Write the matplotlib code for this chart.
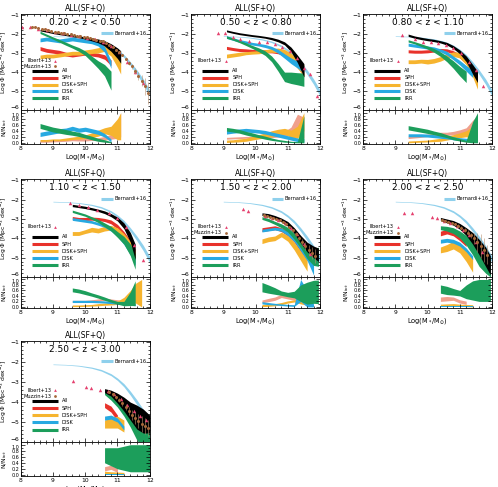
import numpy as np
import matplotlib
matplotlib.use('Agg')
import matplotlib.pyplot as plt

plt.rcParams['font.family'] = 'DejaVu Sans'

zlabels = ['0.20 < z < 0.50', '0.50 < z < 0.80', '0.80 < z < 1.10', '1.10 < z < 1.50',
           '1.50 < z < 2.00', '2.00 < z < 2.50', '2.50 < z < 3.00']

# Bernardi+16 (same in every panel)
bern_m = [9.0, 9.4, 9.8, 10.2, 10.5, 10.8, 11.0, 11.2, 11.4, 11.6, 11.8, 12.0]
bern = [-2.1, -2.12, -2.17, -2.27, -2.4, -2.62, -2.85, -3.15, -3.55, -4.0, -4.5, -5.1]
bern_w = [.015, .015, .02, .03, .04, .05, .06, .08, .1, .12, .14, .16]

# ---- panel 1: 0.2 < z < 0.5
m1 = [8.6, 8.8, 9.0, 9.2, 9.4, 9.6, 9.8, 10.0, 10.2, 10.4, 10.6, 10.8, 11.0, 11.1]
all1 = [-1.78, -1.85, -1.92, -1.98, -2.03, -2.08, -2.13, -2.2, -2.27, -2.35, -2.48, -2.7, -3.0, -3.2]
all1_w = [.04, .04, .04, .04, .04, .05, .05, .06, .08, .1, .14, .2, .28, .33]
sph1 = [-2.75, -2.85, -2.9, -2.95, -3.05, -3.1, -3.05, -3.0, -3.05, -3.1, -3.2, -3.5]
sph1_w = [.1, .1, .1, .1, .1, .1, .1, .1, .1, .1, .12, .15]
ds1 = [-3.2, -3.15, -3.15, -3.1, -3.05, -3.0, -3.0, -2.95, -2.9, -2.85, -2.75, -2.95, -3.4, -3.7]
ds1_w = [.1, .1, .1, .1, .1, .1, .1, .12, .12, .14, .15, .2, .35, .4]
disk1 = [-2.3, -2.25, -2.3, -2.35, -2.3, -2.25, -2.3, -2.35, -2.4, -2.5, -2.8, -3.6]
disk1_w = [.1, .1, .1, .1, .1, .1, .1, .1, .1, .12, .15, .2]
irr1 = [-1.9, -2.05, -2.2, -2.35, -2.5, -2.65, -2.8, -3.0, -3.3, -3.6, -3.9, -4.45]
irr1_w = [.06, .06, .06, .07, .08, .08, .1, .12, .15, .2, .3, .5]
r_sph1 = [.05, .05, .06, .07, .08, .1, .1, .1, .12, .12, .15, .2, .4, .6]
r_sph1_w = [.03, .03, .03, .03, .03, .03, .04, .04, .04, .05, .06, .08, .25, .4]
r_ds1 = [.08, .08, .1, .1, .12, .15, .17, .2, .25, .32, .4, .4, .45, .55]
r_ds1_w = [.03, .03, .03, .03, .04, .04, .05, .06, .08, .1, .1, .15, .35, .45]
r_disk1 = [.28, .32, .36, .4, .42, .48, .42, .45, .4, .35, .25, .08]
r_disk1_w = [.07, .07, .07, .07, .07, .07, .07, .07, .07, .07, .06, .05]
r_irr1 = [.56, .5, .44, .4, .36, .32, .28, .22, .16, .1, .06, .02]
r_irr1_w = [.08, .08, .08, .08, .08, .07, .07, .06, .06, .05, .04, .02]
il1_m = [8.05, 8.3, 8.55, 8.8, 9.05, 9.3, 9.55, 9.8, 10.05, 10.3, 10.55, 10.8, 11.05, 11.3, 11.55, 11.8]
il1 = [-1.62, -1.62, -1.7, -1.8, -1.88, -1.95, -2.02, -2.1, -2.18, -2.27, -2.4, -2.6, -2.95, -3.45, -4.0, -4.6]
mu1_m = [8.35, 8.45, 8.55, 8.65, 8.75, 8.85, 8.95, 9.05, 9.15, 9.25, 9.35, 9.45, 9.55, 9.65, 9.75,
         9.85, 9.95, 10.05, 10.15, 10.25, 10.35, 10.45, 10.55, 10.65, 10.75, 10.85, 10.95, 11.05,
         11.15, 11.25, 11.35, 11.45, 11.55, 11.65, 11.75, 11.85, 11.95]
mu1 = [-1.6, -1.63, -1.66, -1.7, -1.74, -1.78, -1.82, -1.86, -1.89, -1.92, -1.95, -1.98, -2.01,
       -2.04, -2.07, -2.1, -2.13, -2.17, -2.2, -2.24, -2.28, -2.33, -2.38, -2.45, -2.55, -2.68,
       -2.82, -2.95, -3.1, -3.3, -3.5, -3.7, -3.95, -4.2, -4.45, -4.75, -5.1]
mu1_e = [.03] * 25 + [.04, .05, .06, .07, .08, .1, .12, .15, .2, .3, .45, .6]

# ---- panel 2: 0.5 < z < 0.8
m2 = [9.1, 9.3, 9.5, 9.7, 9.9, 10.1, 10.3, 10.5, 10.7, 10.9, 11.1, 11.3, 11.5]
all2 = [-1.82, -1.9, -1.97, -2.02, -2.07, -2.11, -2.16, -2.23, -2.33, -2.48, -2.8, -3.3, -3.9]
all2_w = [.05, .05, .05, .05, .05, .05, .05, .06, .07, .08, .12, .2, .35]
sph2 = [-2.72, -2.78, -2.83, -2.85, -2.88, -2.9, -2.9, -2.9, -2.95, -3.05, -3.25, -3.6, -4.05]
sph2_w = [.08, .08, .08, .08, .08, .08, .08, .08, .08, .1, .12, .15, .2]
ds2 = [-3.15, -3.1, -3.05, -3.0, -2.97, -2.95, -2.9, -2.85, -2.85, -2.95, -3.2, -3.55, -3.9]
ds2_w = [.1, .1, .1, .08, .08, .08, .08, .1, .12, .15, .2, .25, .3]
disk2 = [-2.15, -2.25, -2.35, -2.42, -2.5, -2.55, -2.62, -2.72, -2.9, -3.15, -3.4, -3.6, -3.85]
disk2_w = [.07, .07, .07, .07, .07, .07, .08, .08, .1, .12, .15, .18, .2]
irr2 = [-2.15, -2.25, -2.38, -2.52, -2.67, -2.82, -3.0, -3.3, -3.75, -4.25, -4.3, -4.35, -4.4]
irr2_w = [.06, .06, .06, .07, .08, .1, .12, .15, .2, .25, .3, .32, .35]
r_sph2 = [.15, .16, .17, .18, .18, .2, .2, .22, .25, .3, .4, .65, .5]
r_sph2_w = [.03, .03, .03, .03, .04, .04, .04, .05, .06, .08, .12, .3, .35]
r_ds2 = [.05, .06, .08, .1, .15, .2, .25, .3, .35, .38, .3, .35, .7]
r_ds2_w = [.04, .04, .05, .05, .06, .07, .08, .1, .1, .1, .12, .2, .3]
r_disk2 = [.35, .38, .4, .42, .4, .38, .35, .3, .25, .2, .15, .1, .08]
r_disk2_w = [.06] * 13
r_irr2 = [.45, .42, .38, .32, .27, .22, .17, .12, .08, .05, .03, .02, .45]
r_irr2_w = [.06, .06, .06, .06, .06, .05, .05, .04, .03, .03, .02, .02, .45]
il2_m = [8.84, 9.06, 9.3, 9.53, 9.8, 10.11, 10.37, 10.62, 10.83, 11.06, 11.29, 11.49, 11.69, 11.9]
il2 = [-1.91, -1.95, -2.12, -2.26, -2.35, -2.42, -2.42, -2.53, -2.65, -2.9, -3.26, -3.8, -4.1, -5.25]

# ---- panel 3: 0.8 < z < 1.1
m3 = [9.4, 9.6, 9.8, 10.0, 10.2, 10.4, 10.6, 10.8, 11.0, 11.2, 11.4, 11.55]
all3 = [-2.05, -2.15, -2.22, -2.28, -2.33, -2.4, -2.5, -2.68, -2.93, -3.3, -3.85, -4.25]
all3_w = [.06, .06, .06, .06, .06, .06, .07, .08, .1, .15, .25, .3]
sph3 = [-2.9, -2.92, -2.92, -2.9, -2.86, -2.83, -2.85, -2.95, -3.15, -3.45, -3.9, -4.2]
sph3_w = [.08, .08, .08, .08, .08, .08, .08, .08, .1, .12, .15, .2]
ds3 = [-3.45, -3.45, -3.42, -3.45, -3.4, -3.3, -3.15, -3.05, -3.1, -3.4, -3.95, -4.5]
ds3_w = [.1, .1, .1, .12, .12, .12, .12, .12, .15, .2, .3, .4]
disk3 = [-2.55, -2.6, -2.65, -2.7, -2.75, -2.85, -3.0, -3.25, -3.5, -3.8, -4.1]
disk3_w = [.08, .08, .08, .08, .08, .08, .1, .1, .12, .15, .18]
irr3 = [-2.35, -2.45, -2.57, -2.7, -2.85, -3.05, -3.3, -3.6, -3.95, -4.25]
irr3_w = [.06, .06, .07, .08, .1, .12, .15, .2, .25, .3]
r_sph3 = [.18, .2, .22, .25, .27, .3, .3, .32, .35, .4, .55, .6]
r_sph3_w = [.04, .04, .04, .04, .04, .05, .05, .06, .08, .1, .2, .3]
r_ds3 = [.03, .04, .05, .06, .08, .1, .15, .2, .25, .3, .35, .4]
r_ds3_w = [.03, .03, .03, .03, .04, .05, .06, .07, .08, .1, .2, .3]
r_disk3 = [.25, .25, .25, .24, .22, .2, .18, .15, .12, .1, .08]
r_disk3_w = [.05] * 11
r_irr3 = [.5, .46, .42, .38, .33, .28, .22, .15, .1, .05, .35, .5]
r_irr3_w = [.07, .07, .07, .07, .06, .06, .05, .05, .04, .03, .35, .5]
il3_m = [9.22, 9.6, 9.86, 10.12, 10.32, 10.58, 10.79, 11.05, 11.3, 11.51, 11.72]
il3 = [-2.04, -2.26, -2.39, -2.4, -2.47, -2.56, -2.74, -3.0, -3.44, -3.88, -4.75]

# ---- panel 4: 1.1 < z < 1.5
m4 = [9.6, 9.8, 10.0, 10.2, 10.4, 10.6, 10.8, 11.0, 11.2, 11.4, 11.55, 11.75]
all4 = [-2.3, -2.35, -2.4, -2.47, -2.55, -2.65, -2.8, -3.0, -3.35, -3.95, -4.7]
all4_w = [.06, .06, .06, .06, .06, .07, .08, .1, .15, .25, .4]
sph4 = [-2.95, -3.0, -3.0, -2.98, -3.0, -3.05, -3.15, -3.4, -3.8, -4.3, -4.8]
sph4_w = [.08, .08, .08, .08, .08, .08, .1, .12, .15, .2, .25]
ds4 = [-3.75, -3.75, -3.65, -3.55, -3.6, -3.5, -3.45, -3.6, -3.95, -4.4, -5.0]
ds4_w = [.1, .1, .1, .12, .12, .12, .12, .15, .2, .25, .3]
disk4 = [-3.0, -3.05, -3.1, -3.15, -3.25, -3.35, -3.55, -3.8, -4.2, -4.7, -5.2]
disk4_w = [.07, .07, .07, .07, .07, .08, .08, .1, .12, .15, .2]
irr4 = [-2.6, -2.7, -2.8, -2.95, -3.1, -3.3, -3.5, -3.8, -4.1, -4.6, -5.2]
irr4_w = [.06, .06, .06, .07, .08, .1, .12, .15, .2, .3, .4]
r_sph4 = [.2, .2, .2, .22, .25, .28, .25, .22, .2, .18, .15]
r_sph4_w = [.04] * 11
r_ds4 = [.04, .04, .05, .06, .08, .1, .12, .15, .25, .4, .5, .5]
r_ds4_w = [.03, .03, .03, .03, .04, .04, .05, .06, .1, .2, .35, .5]
r_disk4 = [.2, .2, .2, .2, .19, .18, .16, .14, .12, .1, .08]
r_disk4_w = [.04] * 11
r_irr4 = [.62, .58, .52, .45, .38, .3, .22, .15, .12, .3, .5]
r_irr4_w = [.07, .07, .07, .06, .06, .06, .05, .05, .08, .25, .45]
il4_m = [9.54, 9.8, 10.08, 10.37, 10.73, 11.0, 11.28, 11.5, 11.8]
il4 = [-2.18, -2.27, -2.4, -2.53, -2.7, -2.97, -3.4, -4.36, -5.14]

# ---- panel 5: 1.5 < z < 2.0
m5 = [10.2, 10.4, 10.6, 10.8, 11.0, 11.2, 11.4, 11.6, 11.8, 11.95]
all5 = [-2.75, -2.8, -2.9, -3.05, -3.25, -3.6, -4.05, -4.45, -4.7, -4.85]
all5_w = [.07, .08, .08, .1, .12, .15, .2, .25, .3, .35]
sph5 = [-3.55, -3.5, -3.45, -3.55, -3.75, -4.05, -4.5, -4.9]
sph5_w = [.1, .1, .1, .1, .12, .15, .2, .25]
ds5 = [-4.15, -4.05, -4.0, -3.8, -4.0, -4.4, -4.9, -5.4]
ds5_w = [.12, .12, .12, .12, .15, .2, .25, .3]
disk5 = [-3.6, -3.55, -3.5, -3.55, -3.75, -4.05, -4.5, -4.95, -5.6]
disk5_w = [.07, .07, .07, .08, .1, .12, .15, .2, .3]
irr5 = [-2.95, -3.05, -3.2, -3.35, -3.55, -3.9, -4.3, -4.75, -5.0, -4.95]
irr5_w = [.07, .08, .08, .1, .12, .15, .2, .3, .4, .5]
r_sph5 = [.2, .25, .3, .4, .35, .3, .2, .15]
r_sph5_w = [.05, .06, .06, .06, .06, .06, .06, .06]
r_ds5 = [.05, .06, .08, .12, .18, .22, .15, .1]
r_ds5_w = [.04] * 8
r_disk5 = [.15, .12, .1, .08, .06, .05, .6, .3, .05]
r_disk5_w = [.04, .04, .03, .03, .03, .03, .4, .3, .05]
r_irr5 = [.72, .65, .58, .5, .45, .45, .5, .5, .55, .55]
r_irr5_w = [.17, .15, .12, .08, .08, .12, .3, .4, .42, .43]
il5_m = [9.6, 9.78, 10.3, 10.5, 10.7, 10.9, 11.1, 11.3, 11.5, 11.7]
il5 = [-2.49, -2.6, -2.85, -2.95, -3.05, -3.2, -3.45, -3.8, -4.3, -4.8]
mu5_m = [10.25, 10.35, 10.45, 10.55, 10.65, 10.75, 10.85, 10.95, 11.05, 11.15, 11.25, 11.35,
         11.45, 11.55, 11.65, 11.75, 11.85]
mu5 = [-2.8, -2.83, -2.88, -2.93, -2.99, -3.07, -3.17, -3.28, -3.42, -3.58, -3.78, -3.98,
       -4.2, -4.4, -4.6, -4.75, -4.9]
mu5_e = [.04, .04, .04, .04, .05, .05, .06, .06, .07, .08, .1, .12, .15, .2, .25, .3, .35]

# ---- panel 6: 2.0 < z < 2.5
m6 = [10.4, 10.6, 10.8, 11.0, 11.2, 11.4, 11.6, 11.8, 11.95]
all6 = [-3.0, -3.1, -3.2, -3.38, -3.65, -4.0, -4.45, -4.95, -5.4]
all6_w = [.08, .1, .12, .15, .2, .3, .4, .5, .5]
sph6 = [-3.75, -3.65, -3.75, -4.0, -4.3]
sph6_w = [.12] * 5
ds6 = [-4.6, -4.5, -4.35, -4.5, -4.9, -5.4]
ds6_w = [.15, .18, .2, .25, .3, .35]
disk6 = [-4.15, -4.1, -4.15, -4.3, -4.6, -5.0]
disk6_w = [.1] * 6
irr6 = [-3.45, -3.5, -3.6, -3.8, -4.1, -4.5, -5.0, -5.3, -5.5]
irr6_w = [.1, .12, .15, .18, .25, .35, .45, .5, .5]
r_sph6 = [.28, .3, .3, .2, .15]
r_sph6_w = [.08, .08, .06, .06, .06]
r_ds6 = [.06, .07, .08, .06, .05, .04]
r_ds6_w = [.04] * 6
r_disk6 = [.02] * 6
r_disk6_w = [.015] * 6
r_irr6 = [.65, .6, .55, .5, .55, .6, .6, .6, .6]
r_irr6_w = [.15, .15, .12, .1, .25, .35, .4, .4, .4]
il6_m = [9.26, 9.51, 10.13, 10.3, 10.5, 10.7, 10.9, 11.1, 11.3, 11.5, 11.7]
il6 = [-2.7, -2.7, -2.88, -2.96, -3.1, -3.2, -3.35, -3.55, -3.85, -4.2, -4.7]
mu6_m = [10.45, 10.55, 10.65, 10.75, 10.85, 10.95, 11.05, 11.15, 11.25, 11.35, 11.45, 11.55,
         11.65, 11.75, 11.85]
mu6 = [-3.05, -3.1, -3.15, -3.2, -3.27, -3.35, -3.45, -3.55, -3.7, -3.85, -4.0, -4.2, -4.4,
       -4.6, -4.85]
mu6_e = [.05, .05, .05, .06, .06, .07, .08, .1, .12, .15, .3, .5, .6, .6, .5]

# ---- panel 7: 2.5 < z < 3.0
m7 = [10.6, 10.8, 11.0, 11.2, 11.4, 11.6, 11.8, 12.0]
all7 = [-3.42, -3.55, -3.8, -4.1, -4.45, -4.75, -4.95, -5.1]
all7_w = [.1, .15, .25, .35, .45, .6, .6, .45]
sph7 = [-4.15, -4.35, -4.8]
sph7_w = [.12, .15, .15]
ds7 = [-5.1, -5.05, -5.0, -5.2]
ds7_w = [.2, .25, .3, .3]
disk7 = [-4.8, -4.75, -4.9, -5.3]
disk7_w = [.1] * 4
irr7 = [-3.5, -3.75, -4.05, -4.4, -4.85, -5.4, -5.8, -5.9]
irr7_w = [.12, .15, .2, .3, .4, .5, .5, .5]
r_sph7 = [.2, .25, .15]
r_sph7_w = [.07] * 3
r_ds7 = [.08, .06, .05, .04]
r_ds7_w = [.04] * 4
r_disk7 = [.02] * 4
r_disk7_w = [.015] * 4
r_irr7 = [.65, .6, .55, .55, .55, .55, .55, .55]
r_irr7_w = [.25, .3, .35, .4, .45, .45, .45, .45]
il7_m = [9.62, 10.02, 10.18, 10.47, 10.7, 10.9, 11.1, 11.3, 11.5, 11.7, 11.9]
il7 = [-2.96, -3.22, -3.3, -3.37, -3.45, -3.6, -3.85, -4.15, -4.45, -4.7, -4.9]
mu7_m = [10.75, 10.85, 10.95, 11.05, 11.15, 11.25, 11.35, 11.45, 11.55, 11.65, 11.75, 11.85, 11.95]
mu7 = [-3.5, -3.6, -3.75, -3.9, -4.05, -4.25, -4.45, -4.65, -4.8, -4.95, -5.1, -5.2, -5.3]
mu7_e = [.06, .07, .08, .1, .12, .15, .2, .25, .3, .35, .4, .4, .4]

C_ALL = 'black'
C_SPH = '#e8322b'
C_DS = '#f6b42f'
C_DISK = '#27a9e1'
C_IRR = '#1c9e5b'
C_RSPH = '#f0a08c'
C_BERN = '#8fd0ec'
C_IL = '#e5406e'
C_MU = '#a6683a'

panels = [
    dict(m=m1, all=(all1, all1_w), sph=(sph1, sph1_w), ds=(ds1, ds1_w), disk=(disk1, disk1_w),
         irr=(irr1, irr1_w), rsph=(r_sph1, r_sph1_w), rds=(r_ds1, r_ds1_w),
         rdisk=(r_disk1, r_disk1_w), rirr=(r_irr1, r_irr1_w), il=(il1_m, il1), mu=(mu1_m, mu1, mu1_e)),
    dict(m=m2, all=(all2, all2_w), sph=(sph2, sph2_w), ds=(ds2, ds2_w), disk=(disk2, disk2_w),
         irr=(irr2, irr2_w), rsph=(r_sph2, r_sph2_w), rds=(r_ds2, r_ds2_w),
         rdisk=(r_disk2, r_disk2_w), rirr=(r_irr2, r_irr2_w), il=(il2_m, il2), mu=None),
    dict(m=m3, all=(all3, all3_w), sph=(sph3, sph3_w), ds=(ds3, ds3_w), disk=(disk3, disk3_w),
         irr=(irr3, irr3_w), rsph=(r_sph3, r_sph3_w), rds=(r_ds3, r_ds3_w),
         rdisk=(r_disk3, r_disk3_w), rirr=(r_irr3, r_irr3_w), il=(il3_m, il3), mu=None),
    dict(m=m4, all=(all4, all4_w), sph=(sph4, sph4_w), ds=(ds4, ds4_w), disk=(disk4, disk4_w),
         irr=(irr4, irr4_w), rsph=(r_sph4, r_sph4_w), rds=(r_ds4, r_ds4_w),
         rdisk=(r_disk4, r_disk4_w), rirr=(r_irr4, r_irr4_w), il=(il4_m, il4), mu=None),
    dict(m=m5, all=(all5, all5_w), sph=(sph5, sph5_w), ds=(ds5, ds5_w), disk=(disk5, disk5_w),
         irr=(irr5, irr5_w), rsph=(r_sph5, r_sph5_w), rds=(r_ds5, r_ds5_w),
         rdisk=(r_disk5, r_disk5_w), rirr=(r_irr5, r_irr5_w), il=(il5_m, il5), mu=(mu5_m, mu5, mu5_e)),
    dict(m=m6, all=(all6, all6_w), sph=(sph6, sph6_w), ds=(ds6, ds6_w), disk=(disk6, disk6_w),
         irr=(irr6, irr6_w), rsph=(r_sph6, r_sph6_w), rds=(r_ds6, r_ds6_w),
         rdisk=(r_disk6, r_disk6_w), rirr=(r_irr6, r_irr6_w), il=(il6_m, il6), mu=(mu6_m, mu6, mu6_e)),
    dict(m=m7, all=(all7, all7_w), sph=(sph7, sph7_w), ds=(ds7, ds7_w), disk=(disk7, disk7_w),
         irr=(irr7, irr7_w), rsph=(r_sph7, r_sph7_w), rds=(r_ds7, r_ds7_w),
         rdisk=(r_disk7, r_disk7_w), rirr=(r_irr7, r_irr7_w), il=(il7_m, il7), mu=(mu7_m, mu7, mu7_e)),
]

W, H = 498, 487
col_x = [20.7, 191, 363]
col_w = 129
row_top = [14, 179, 341]
row_mid = [110, 277, 442]
row_bot = [144, 308, 476]


def band(ax, m, vals, color, alpha=1.0):
    y, w = np.array(vals[0]), np.array(vals[1])
    x = np.array(m[:len(y)])
    ax.fill_between(x, y - w, y + w, color=color, lw=0, alpha=alpha)


def style(ax):
    ax.tick_params(which='both', direction='in', top=True, right=True, labelsize=4.3,
                   width=0.5, pad=1.2)
    ax.tick_params(which='major', length=3)
    ax.tick_params(which='minor', length=1.5)
    for s in ax.spines.values():
        s.set_linewidth(0.6)


fig = plt.figure(figsize=(W / 100, H / 100), dpi=100)

for i, p in enumerate(panels):
    r, c = divmod(i, 3)
    x0 = col_x[c] / W
    ax = fig.add_axes([x0, 1 - row_mid[r] / H, col_w / W, (row_mid[r] - row_top[r]) / H])
    ar = fig.add_axes([x0, 1 - row_bot[r] / H, col_w / W, (row_bot[r] - row_mid[r]) / H])

    # main panel
    bm, bv, bw = np.array(bern_m), np.array(bern), np.array(bern_w)
    ax.fill_between(bm, bv - bw, bv + bw, color=C_BERN, lw=0)
    band(ax, p['m'], p['sph'], C_SPH)
    band(ax, p['m'], p['ds'], C_DS)
    band(ax, p['m'], p['disk'], C_DISK)
    band(ax, p['m'], p['irr'], C_IRR)
    band(ax, p['m'], p['all'], C_ALL)
    ax.plot(p['il'][0], p['il'][1], '^', color=C_IL, ms=2.5, mew=0)
    if p['mu'] is not None:
        ax.errorbar(p['mu'][0], p['mu'][1], yerr=p['mu'][2], fmt='o', color=C_MU, ms=2.2,
                    mew=0, elinewidth=0.4, ecolor='#b89070', capsize=0)

    ax.set_xlim(8, 12)
    ax.set_ylim(-6, -0.93)
    ax.set_xticks([8, 9, 10, 11, 12])
    ax.set_xticks(np.arange(8, 12.01, 0.2), minor=True)
    ax.set_yticks([-6, -5, -4, -3, -2, -1])
    ax.set_yticks(np.arange(-6, -0.99, 0.2), minor=True)
    ax.set_xticklabels([])
    ax.set_yticklabels(['−6', '−5', '−4', '−3', '−2', '−1'])
    ax.get_yticklabels()[0].set_va('bottom')
    style(ax)
    ax.set_title('ALL(SF+Q)', fontsize=5.5, pad=2)
    ax.set_ylabel(r'Log $\Phi$ [Mpc$^{-3}$ dex$^{-1}$]', fontsize=4.3)
    ax.yaxis.set_label_coords(-0.092, 0.5)
    ax.text(10, -1.38, zlabels[i], ha='center', va='center', fontsize=6.5)

    # legend-like annotations
    ax.plot([10.5, 10.85], [-1.95, -1.95], color=C_BERN, lw=2.2, solid_capstyle='butt')
    ax.text(10.9, -1.95, 'Bernardi+16', fontsize=3.6, va='center')
    ax.text(8.95, -3.4, 'Ilbert+13', fontsize=3.6, va='center', ha='right')
    ax.plot([9.07], [-3.4], '^', color=C_IL, ms=2, mew=0)
    if p['mu'] is not None:
        ax.text(8.95, -3.7, 'Muzzin+13', fontsize=3.6, va='center', ha='right')
        ax.plot([9.07], [-3.7], 'o', color=C_MU, ms=2, mew=0)
    for yy, col, lab in zip([-3.93, -4.3, -4.66, -5.02, -5.38],
                            [C_ALL, C_SPH, C_DS, C_DISK, C_IRR],
                            ['All', 'SPH', 'DISK+SPH', 'DISK', 'IRR']):
        ax.plot([8.35, 9.15], [yy, yy], color=col, lw=2.2, solid_capstyle='butt')
        ax.text(9.28, yy, lab, fontsize=3.6, va='center')

    # ratio panel
    band(ar, p['m'], p['rsph'], C_RSPH)
    band(ar, p['m'], p['rds'], C_DS)
    band(ar, p['m'], p['rdisk'], C_DISK)
    band(ar, p['m'], p['rirr'], C_IRR)
    ar.set_xlim(8, 12)
    ar.set_ylim(-0.04, 1.09)
    ar.set_xticks([8, 9, 10, 11, 12])
    ar.set_xticks(np.arange(8, 12.01, 0.2), minor=True)
    ar.set_yticks([0, 0.2, 0.4, 0.6, 0.8, 1.0])
    ar.set_yticks(np.arange(0, 1.01, 0.1), minor=True)
    ar.set_yticklabels(['0.0', '0.2', '0.4', '0.6', '0.8', '1.0'])
    ar.get_yticklabels()[-1].set_va('top')
    style(ar)
    ar.tick_params(axis='y', labelsize=3.5)
    ar.set_ylabel(r'N/N$_{tot}$', fontsize=4.3)
    ar.yaxis.set_label_coords(-0.092, 0.5)
    ar.set_xlabel(r'Log(M$_*$/M$_{\odot}$)', fontsize=4.8, labelpad=1)

fig.savefig('out.png', dpi=100)
